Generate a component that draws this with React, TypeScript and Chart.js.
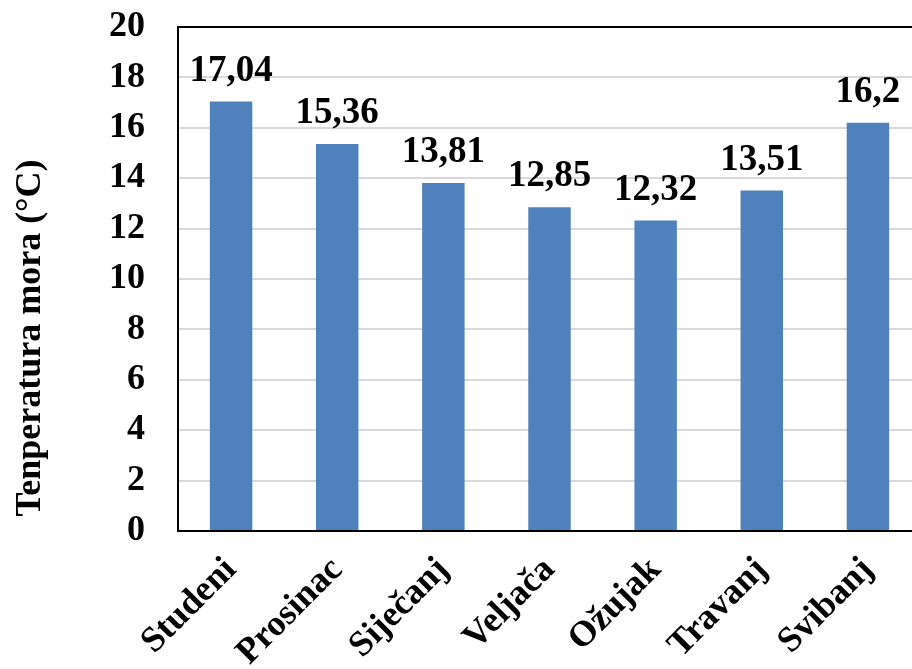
import React, { useEffect, useRef } from "react";
import { Chart, registerables } from "chart.js";

Chart.register(...registerables);

const months = ["Studeni", "Prosinac", "Siječanj", "Veljača", "Ožujak", "Travanj", "Svibanj"];
const temps = [17.04, 15.36, 13.81, 12.85, 12.32, 13.51, 16.2];
const valueLabels = ["17,04", "15,36", "13,81", "12,85", "12,32", "13,51", "16,2"];
const yTicks = [0, 2, 4, 6, 8, 10, 12, 14, 16, 18, 20];
const yTitle = "Tenperatura mora (°C)";

const FONT = "'Liberation Serif', 'Times New Roman', serif";

const framePlugin = {
  id: "frame",
  beforeDatasetsDraw(chart: any) {
    const { ctx, chartArea } = chart;
    ctx.save();
    ctx.strokeStyle = "#000";
    ctx.lineWidth = 2;
    ctx.strokeRect(chartArea.left, chartArea.top, chartArea.right - chartArea.left, chartArea.bottom - chartArea.top);
    ctx.restore();
  },
};

const labelPlugin = {
  id: "valueLabels",
  afterDatasetsDraw(chart: any) {
    const { ctx } = chart;
    const meta = chart.getDatasetMeta(0);
    ctx.save();
    ctx.font = `bold 37px ${FONT}`;
    ctx.fillStyle = "#000";
    ctx.textAlign = "center";
    ctx.textBaseline = "alphabetic";
    meta.data.forEach((bar: any, i: number) => {
      ctx.fillText(valueLabels[i], bar.x, bar.y - 21);
    });
    ctx.restore();
  },
};

const titlePlugin = {
  id: "yTitle",
  afterDraw(chart: any) {
    const { ctx } = chart;
    ctx.save();
    ctx.font = `bold 36px ${FONT}`;
    ctx.fillStyle = "#000";
    ctx.textAlign = "center";
    ctx.textBaseline = "middle";
    ctx.translate(31, 338);
    ctx.rotate(-Math.PI / 2);
    ctx.fillText(yTitle, 0, 0);
    ctx.restore();
  },
};

export default function App() {
  const ref = useRef<HTMLCanvasElement>(null);
  useEffect(() => {
    document.body.style.overflow = "hidden";
    const chart = new Chart(ref.current!, {
      type: "bar",
      data: {
        labels: months,
        datasets: [
          {
            data: temps,
            backgroundColor: "#4F81BD",
            barPercentage: 0.8,
            categoryPercentage: 0.5,
          },
        ],
      },
      options: {
        responsive: false,
        animation: false,
        layout: { padding: { top: 27, right: 0, left: 0, bottom: 0 } },
        plugins: { legend: { display: false }, tooltip: { enabled: false } },
        scales: {
          x: {
            grid: { display: false },
            border: { display: false },
            ticks: {
              minRotation: 45,
              maxRotation: 45,
              color: "#000",
              font: { family: FONT, size: 36, weight: "bold" },
              padding: 10,
            },
            afterFit(scale: any) {
              scale.height = 138;
              scale.paddingLeft = 0;
              scale.paddingRight = 0;
            },
          },
          y: {
            min: 0,
            max: 20,
            afterBuildTicks(scale: any) {
              scale.ticks = yTicks.map((v) => ({ value: v }));
            },
            grid: { color: "#d9d9d9", lineWidth: 2, drawTicks: false },
            border: { display: false },
            ticks: {
              color: "#000",
              font: { family: FONT, size: 36, weight: "bold" },
              padding: 33,
            },
            afterFit(scale: any) {
              scale.width = 178;
              scale.paddingTop = 0;
              scale.paddingBottom = 0;
            },
          },
        },
      },
      plugins: [framePlugin, labelPlugin, titlePlugin],
    });
    return () => chart.destroy();
  }, []);
  return (
    <div style={{ position: "absolute", left: 0, top: 0, width: 921, height: 669 }}>
      <canvas ref={ref} width={921} height={669} style={{ display: "block" }} />
    </div>
  );
}
